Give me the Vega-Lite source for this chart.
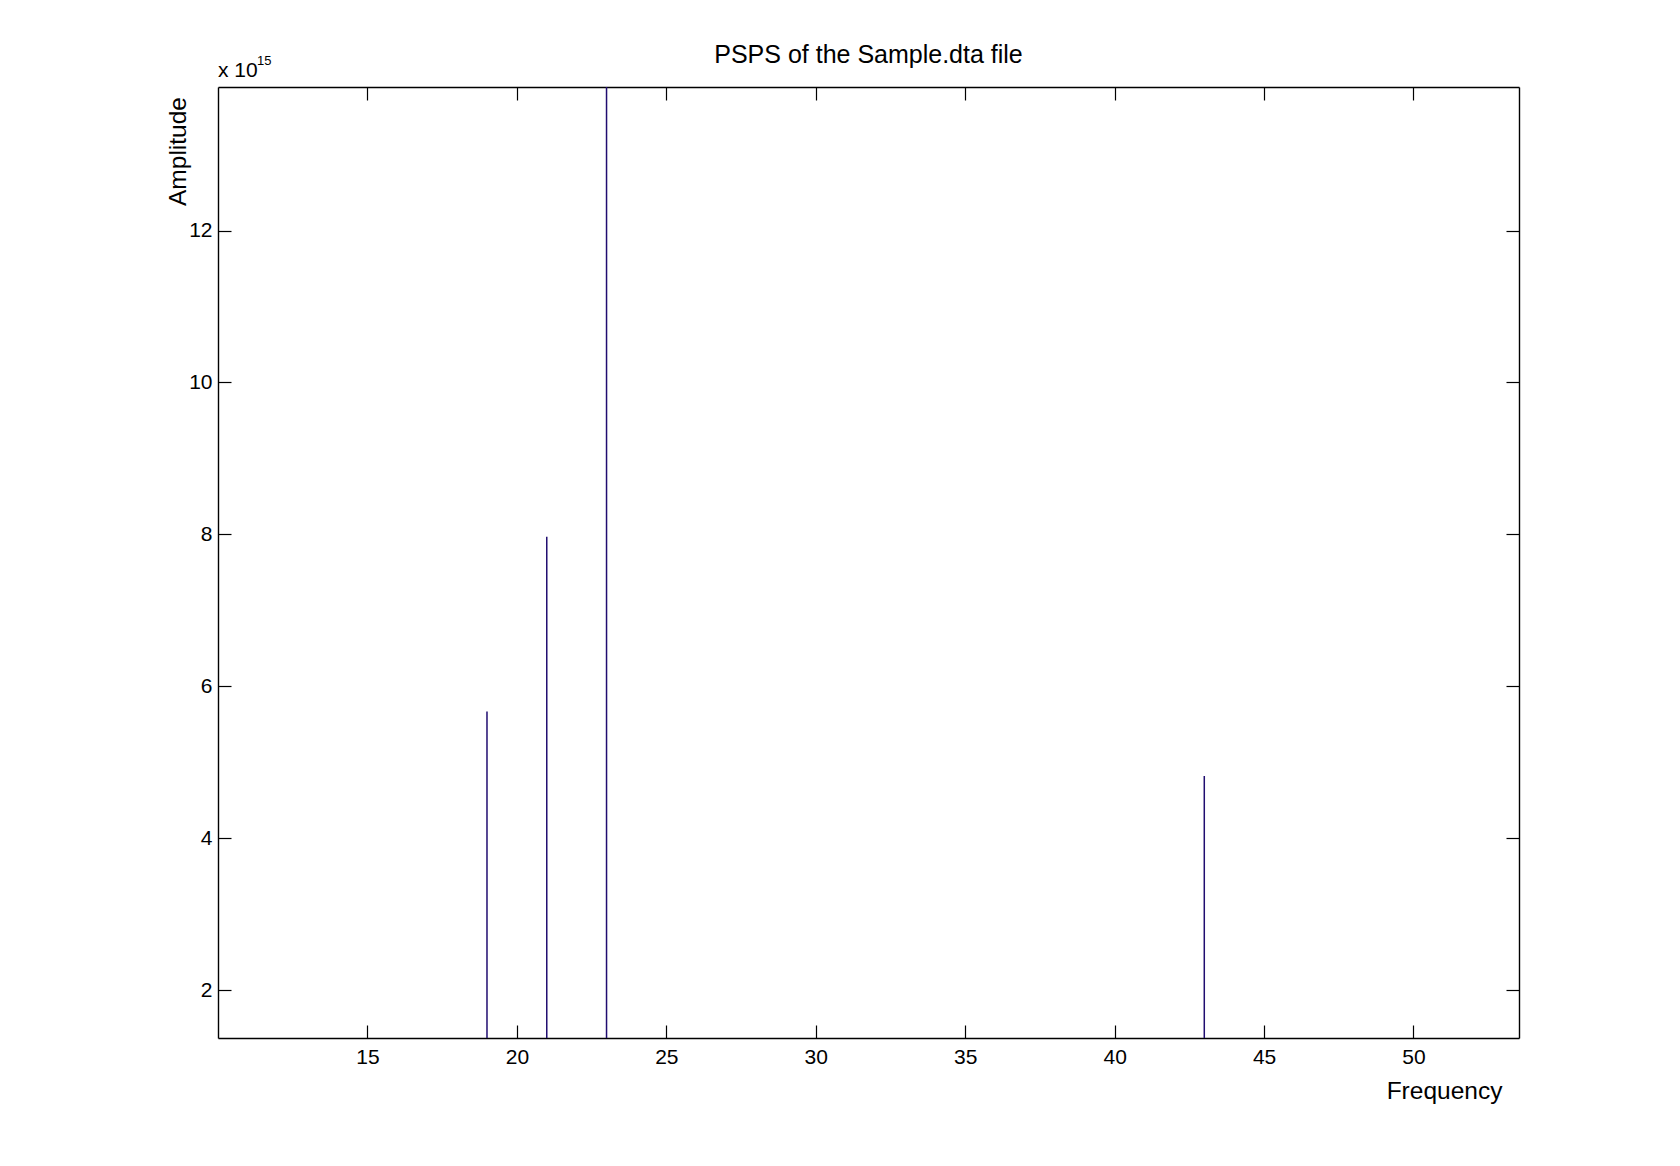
{
  "$schema": "https://vega.github.io/schema/vega-lite/v6.json",
  "autosize": {"type": "none"},
  "width": 1301,
  "height": 951,
  "padding": {"left": 218, "top": 87, "right": 161, "bottom": 128},
  "background": "white",
  "config": {
    "view": {"stroke": null},
    "font": "Liberation Sans",
    "axis": {
      "grid": false,
      "domainColor": "black",
      "domainWidth": 1.4,
      "tickColor": "black",
      "tickWidth": 1.2,
      "tickSize": -13,
      "labelFont": "Liberation Sans",
      "labelFontSize": 21,
      "labelColor": "black",
      "titleFont": "Liberation Sans",
      "titleFontSize": 24.5,
      "titleFontWeight": "normal",
      "titleColor": "black"
    }
  },
  "title": {
    "text": "PSPS of the Sample.dta file",
    "font": "Liberation Sans",
    "fontSize": 25,
    "fontWeight": "normal",
    "color": "black",
    "anchor": "middle",
    "frame": "group",
    "baseline": "alphabetic",
    "offset": 25,
    "dy": 58
  },
  "layer": [
    {
      "data": {
        "values": [
          {"frequency": 19, "amplitude": 5.67},
          {"frequency": 21, "amplitude": 7.97},
          {"frequency": 23, "amplitude": 13.89},
          {"frequency": 43, "amplitude": 4.82}
        ]
      },
      "layer": [
        {
          "mark": {"type": "rule", "color": "#200d70", "strokeWidth": 1.5, "clip": true},
          "encoding": {
            "x": {
              "field": "frequency", "type": "quantitative",
              "scale": {"domain": [10, 53.53], "nice": false, "zero": false},
              "axis": {
                "orient": "bottom", "values": [15, 20, 25, 30, 35, 40, 45, 50],
                "labelPadding": 21,
                "title": "Frequency", "titleX": 1226, "titleY": 53,
                "titleAlign": "center", "titleBaseline": "middle", "titleAnchor": null
              }
            },
            "y": {
              "field": "amplitude", "type": "quantitative",
              "scale": {"domain": [1.37, 13.89], "nice": false, "zero": false},
              "axis": {
                "orient": "left", "values": [2, 4, 6, 8, 10, 12],
                "labelPadding": 19,
                "title": "Amplitude", "titleX": -40, "titleY": 64,
                "titleAlign": "center", "titleBaseline": "middle", "titleAngle": -90, "titleAnchor": null
              }
            },
            "y2": {"datum": 0}
          }
        },
        {
          "mark": {"type": "rule", "color": "#200d70", "strokeWidth": 1.5, "clip": true, "opacity": 0},
          "encoding": {
            "x": {
              "field": "frequency", "type": "quantitative",
              "axis": {"orient": "top", "values": [15, 20, 25, 30, 35, 40, 45, 50], "labels": false, "title": null}
            },
            "y": {
              "field": "amplitude", "type": "quantitative",
              "axis": {"orient": "right", "values": [2, 4, 6, 8, 10, 12], "labels": false, "title": null}
            },
            "y2": {"datum": 0}
          }
        }
      ],
      "resolve": {"axis": {"x": "independent", "y": "independent"}}
    },
    {
      "data": {"values": [{"label": "x 10", "exponent": "15"}]},
      "layer": [
        {
          "mark": {"type": "text", "align": "left", "baseline": "alphabetic", "fontSize": 21, "fontWeight": "normal", "font": "Liberation Sans", "color": "black", "dy": -10},
          "encoding": {
            "text": {"field": "label"},
            "x": {"datum": 10, "type": "quantitative", "axis": null},
            "y": {"datum": 13.89, "type": "quantitative", "axis": null}
          }
        },
        {
          "mark": {"type": "text", "align": "left", "baseline": "alphabetic", "fontSize": 13, "fontWeight": "normal", "font": "Liberation Sans", "color": "black", "dx": 39, "dy": -22},
          "encoding": {
            "text": {"field": "exponent"},
            "x": {"datum": 10, "type": "quantitative", "axis": null},
            "y": {"datum": 13.89, "type": "quantitative", "axis": null}
          }
        }
      ]
    }
  ],
  "resolve": {"axis": {"x": "independent", "y": "independent"}}
}
